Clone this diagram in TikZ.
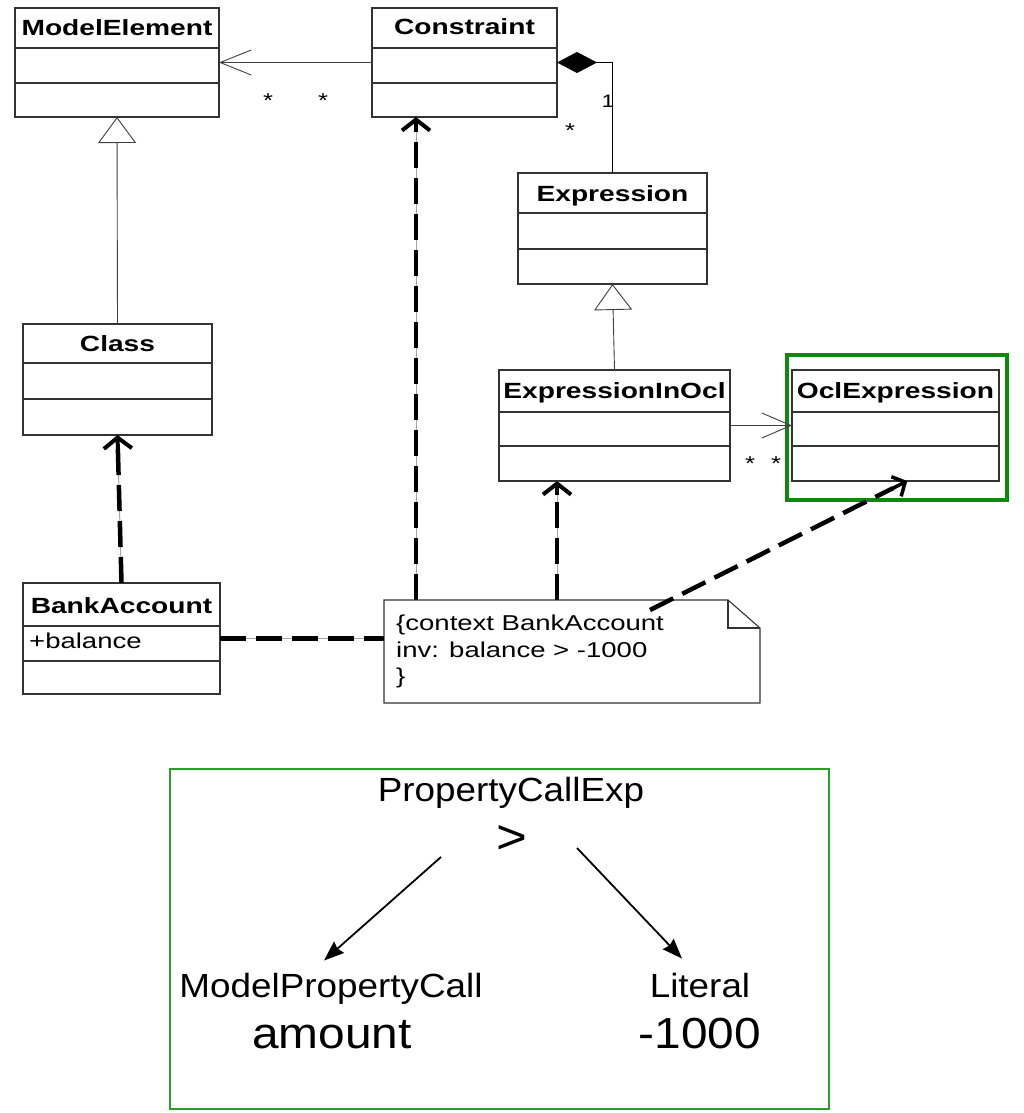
\documentclass[tikz,border=0pt]{standalone}
\usepackage{fontspec}
\setmainfont{Liberation Sans}
\newfontfamily\umlfont[FakeStretch=1.28]{Liberation Sans}
\newfontfamily\treefont[FakeStretch=1.1]{Liberation Sans}
\usetikzlibrary{arrows.meta,calc}

\definecolor{frameGreen}{RGB}{12,138,12}
\definecolor{treeGreen}{RGB}{40,160,40}

\tikzset{
  umlbox/.style={rectangle, draw=black!80, line width=1.1pt, fill=white, inner sep=0pt, outer sep=0pt},
  cmpline/.style={draw=black!80, line width=1.1pt},
  clsname/.style={font=\umlfont\bfseries\fontsize{22}{26}\selectfont, anchor=base, inner sep=0pt},
  umltext/.style={font=\umlfont\fontsize{21.5}{26}\selectfont, anchor=base west, inner sep=0pt},
  mult/.style={font=\umlfont\fontsize{20}{24}\selectfont, anchor=base, inner sep=0pt},
  assoc/.style={draw=black!75, line width=0.9pt, -{Straight Barb[length=31pt,width=25pt,line width=0.9pt]}},
  genline/.style={draw=black!75, line width=0.9pt, -{Triangle[open,length=26pt,width=38pt,line width=0.9pt,fill=white]}},
  comp/.style={draw=black, line width=1pt, {Diamond[length=40pt,width=21pt]}-},
  depbase/.style={draw=black!35, line width=1pt},
  depline/.style={draw=black, line width=4.5pt, dash pattern=on 26pt off 10pt},
  deptip/.style={draw=black, line width=4pt, -{Straight Barb[length=11pt,width=28pt,line width=4pt]}},
  treetext/.style={font=\treefont\fontsize{33.5}{38}\selectfont, anchor=base, inner sep=0pt},
  treebig/.style={font=\treefont\fontsize{43.5}{48}\selectfont, anchor=base, inner sep=0pt},
  treearrow/.style={draw=black, line width=1.8pt, -{Stealth[length=20pt,width=15pt,inset=2pt]}},
}

% #1 name, #2 left, #3 top, #4 right, #5 bottom, #6/#7 compartment lines, #8 title, #9 title baseline
\newcommand\umlclass[9]{%
  \node[umlbox, minimum width={#4-#2}, minimum height={#5-#3}] (#1) at ({(#2+#4)/2},{(#3+#5)/2}) {};
  \draw[cmpline] (#2,#6) -- (#4,#6) (#2,#7) -- (#4,#7);
  \node[clsname] (#1-title) at ({(#2+#4)/2},#9) {#8};
}

\begin{document}
\begin{tikzpicture}[x=1pt,y=-1pt]
\useasboundingbox (0,0) rectangle (1024,1113);
\fill[white] (0,0) rectangle (1024,1113);

% green frame around the OCL expression class
\node[draw=frameGreen, line width=3.5pt, minimum width=220, minimum height=145, inner sep=0pt, outer sep=0pt] (oclframe) at (897,427.5) {};

% classes
\umlclass{me}{15}{8}{219}{117}{48}{83}{ModelElement}{36}
\umlclass{con}{372}{8}{557}{117}{48}{83}{Constraint}{35}
\umlclass{expr}{518}{173}{707}{284}{213}{249}{Expression}{201}
\umlclass{cls}{23}{324}{212}{435}{363}{399}{Class}{351}
\umlclass{eio}{499}{370}{730}{481}{412}{446}{ExpressionInOcl}{398}
\umlclass{ocl}{792}{370}{999}{481}{412}{446}{OclExpression}{398}
\umlclass{ba}{23}{583}{220}{694}{626}{661}{BankAccount}{613}
\node[umltext] (balance) at (29,648) {+balance};

% note with folded corner
\node[inner sep=0pt, outer sep=0pt, minimum width=376, minimum height=103] (note) at (572,651.5) {};
\draw[draw=black!80, line width=1.1pt, fill=white]
  (note.north west) -- ($(note.north east)+(-32,0)$) -- ($(note.north east)+(0,28)$)
  -- (note.south east) -- (note.south west) -- cycle;
\draw[draw=black!80, line width=1.1pt]
  ($(note.north east)+(-32,0)$) -- ($(note.north east)+(-32,28)$) -- ($(note.north east)+(0,28)$);
\node[umltext] (notel1) at (396,630) {\{context BankAccount};
\node[umltext] (notel2) at (396,657) {inv: balance > -1000};
\node[umltext] (notel3) at (396,683) {\}};

% associations and generalizations
\draw[assoc] (con.west) -- (me.east);
\node[mult] (star1) at (268,108) {*};
\node[mult] (star2) at (323,108) {*};
\draw[comp] (con.east) -| (expr.north);
\node[mult, font=\umlfont\fontsize{18}{22}\selectfont] (one1) at (608,108) {1};
\node[mult] (star3) at (570,137) {*};
\draw[genline] (cls.north) -- (me.south);
\draw[genline] (eio.north) -- (expr.south);
\draw[assoc, -{Straight Barb[length=29pt,width=25pt,line width=0.9pt]}] (eio.east) -- (ocl.west);
\node[mult] (star4) at (750,470) {*};
\node[mult] (star5) at (776,470) {*};

% dependency anchors on the note
\coordinate (n1) at ($(note.north west)+(32,0)$);
\coordinate (n2) at ($(note.north west)+(173,0)$);
\coordinate (n3) at ($(note.north west)+(266,10)$);
\coordinate (oclfoot) at ($(ocl.south west)!0.557!(ocl.south east)$);

% dependencies: thin grey trace under thick dashes
\draw[depbase] (ba.east) -- (ba.east -| note.west);
\draw[depline] (ba.east) -- (ba.east -| note.west);

\draw[depbase] (ba.north) -- (cls.south);
\draw[depline] (ba.north) -- ($(cls.south)!12pt!(ba.north)$);
\draw[deptip] ($(cls.south)!14pt!(ba.north)$) -- (cls.south);

\draw[depbase] (n1) -- (n1 |- con.south);
\draw[depline] (n1) -- ($(n1 |- con.south)+(0,14)$);
\draw[deptip] ($(n1 |- con.south)+(0,14)$) -- (n1 |- con.south);

\draw[depbase] (n2) -- (n2 |- eio.south);
\draw[depline] (n2) -- ($(n2 |- eio.south)+(0,14)$);
\draw[deptip] ($(n2 |- eio.south)+(0,14)$) -- (n2 |- eio.south);

\draw[depline] (n3) -- ($(oclfoot)!16pt!(n3)$);
\draw[draw=black, line width=3.5pt, -{Straight Barb[length=10pt,width=22pt,line width=3.5pt]}] ($(oclfoot)!18pt!(n3)$) -- (oclfoot);

% expression tree
\node[draw=treeGreen, line width=1.5pt, minimum width=659, minimum height=340, inner sep=0pt, outer sep=0pt] (tree) at (499.5,939) {};
\node[treetext] (pce) at (511,801) {PropertyCallExp};
\node[treetext, font=\treefont\fontsize{48}{52}\selectfont] (gt) at (512,853) {>};
\node[treetext] (mpc) at (331,997) {ModelPropertyCall};
\node[treetext] (lit) at (700,997) {Literal};
\node[treebig] (amt) at (332,1048) {amount};
\node[treebig] (num) at (700,1048) {-1000};
\coordinate (gtL) at ($(gt.base)+(-71,4)$);
\coordinate (gtR) at ($(gt.base)+(65,-5)$);
\coordinate (mpcTop) at ($(mpc.north)+(-7,-12)$);
\coordinate (litTop) at ($(lit.north)+(-18,-14)$);
\draw[treearrow] (gtL) -- (mpcTop);
\draw[treearrow] (gtR) -- (litTop);
\end{tikzpicture}
\end{document}
